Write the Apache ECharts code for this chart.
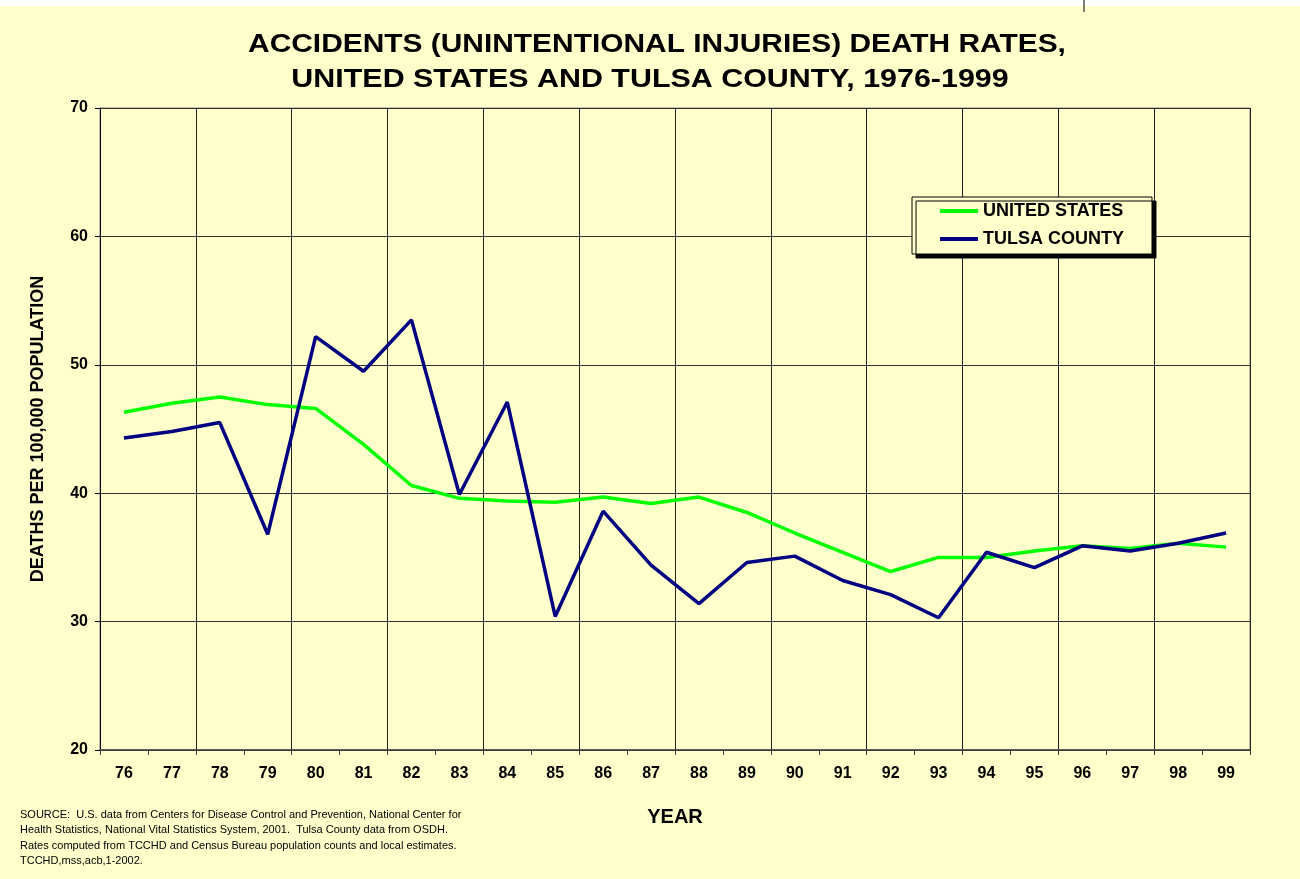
<!DOCTYPE html>
<html>
<head>
<meta charset="utf-8">
<script src="https://cdn.jsdelivr.net/npm/echarts@6/dist/echarts.min.js"></script>
<style>
  html, body { margin: 0; padding: 0; background: #ffffff; }
  #chart { width: 1300px; height: 879px; }
</style>
</head>
<body>
<div id="chart"></div>
<script>
// years on the x axis (19xx)
const years = ["76", "77", "78", "79", "80", "81", "82", "83", "84", "85", "86", "87",
  "88", "89", "90", "91", "92", "93", "94", "95", "96", "97", "98", "99"];
// deaths per 100,000 population
const unitedStates = [46.3, 47.0, 47.5, 46.9, 46.6, 43.8, 40.6, 39.6, 39.4, 39.3, 39.7, 39.2,
  39.7, 38.5, 36.9, 35.4, 33.9, 35.0, 35.0, 35.5, 35.9, 35.7, 36.1, 35.8];
const tulsaCounty = [44.3, 44.8, 45.5, 36.8, 52.2, 49.5, 53.5, 39.9, 47.1, 30.4, 38.6, 34.4,
  31.4, 34.6, 35.1, 33.2, 32.1, 30.3, 35.4, 34.2, 35.9, 35.5, 36.1, 36.9];
const yTicks = { min: 20, max: 70, step: 10 };

const titleLines = [
  "ACCIDENTS (UNINTENTIONAL INJURIES) DEATH RATES,",
  "UNITED STATES AND TULSA COUNTY, 1976-1999"
];
const sourceLines = [
  "SOURCE:  U.S. data from Centers for Disease Control and Prevention, National Center for",
  "Health Statistics, National Vital Statistics System, 2001.  Tulsa County data from OSDH.",
  "Rates computed from TCCHD and Census Bureau population counts and local estimates.",
  "TCCHD,mss,acb,1-2002."
];

const font = "'Liberation Sans', Arial, sans-serif";
const chart = echarts.init(document.getElementById("chart"));

const option = {
  backgroundColor: "#FFFFCC",
  animation: false,
  textStyle: { fontFamily: font },
  legend: {
    orient: "vertical",
    left: 912,
    top: 197,
    padding: [5, 28, 6, 28],
    itemGap: 10,
    itemWidth: 38,
    itemHeight: 4,
    icon: "rect",
    backgroundColor: "#FFFFCC",
    borderColor: "#000",
    borderWidth: 1,
    shadowColor: "#000",
    shadowBlur: 0,
    shadowOffsetX: 4,
    shadowOffsetY: 4,
    textStyle: { fontFamily: font, fontSize: 18, fontWeight: "bold", color: "#000" },
  },
  grid: {
    left: 100,
    right: 50,
    top: 108,
    bottom: 129,
    show: true,
    borderColor: "#808080",
    borderWidth: 1,
  },
  xAxis: {
    type: "category",
    data: years,
    boundaryGap: true,
    name: "YEAR",
    nameLocation: "middle",
    nameGap: 57,
    nameTextStyle: { fontFamily: font, fontSize: 20, fontWeight: "bold", color: "#000" },
    axisLine: { lineStyle: { color: "#404040", width: 1.5 } },
    axisTick: { show: true, interval: 0, length: 5, lineStyle: { color: "#404040" } },
    axisLabel: { interval: 0, margin: 16, fontFamily: font, fontSize: 16, fontWeight: "bold", color: "#000" },
    splitLine: {
      show: true,
      interval: (index) => index % 2 === 0,
      lineStyle: { color: "#222", width: 1 },
    },
  },
  yAxis: {
    type: "value",
    min: yTicks.min,
    max: yTicks.max,
    interval: yTicks.step,
    name: "DEATHS PER 100,000 POPULATION",
    nameLocation: "middle",
    nameGap: 53,
    nameTextStyle: { fontFamily: font, fontSize: 18, fontWeight: "bold", color: "#000" },
    axisLine: { show: true, lineStyle: { color: "#000", width: 1 } },
    axisTick: { show: true, length: 5, lineStyle: { color: "#000" } },
    axisLabel: { margin: 12, fontFamily: font, fontSize: 16, fontWeight: "bold", color: "#000" },
    splitLine: { show: true, lineStyle: { color: "#333", width: 1 } },
  },
  graphic: [
    // white strip and stray mark along the top edge of the scan
    { type: "rect", left: 0, top: 0, shape: { width: 1300, height: 6 }, style: { fill: "#fff" } },
    { type: "line", shape: { x1: 1084, y1: 0, x2: 1084, y2: 12 }, style: { stroke: "#000", lineWidth: 1 } },
    {
      // title, stretched wide like the original
      type: "text",
      x: 657,
      y: 45,
      scaleX: 1.15,
      style: {
        text: titleLines[0],
        fontFamily: font,
        fontSize: 26,
        fontWeight: "bold",
        fill: "#000",
        align: "center",
        verticalAlign: "middle",
      },
    },
    {
      type: "text",
      x: 650,
      y: 80,
      scaleX: 1.17,
      style: {
        text: titleLines[1],
        fontFamily: font,
        fontSize: 26,
        fontWeight: "bold",
        fill: "#000",
        align: "center",
        verticalAlign: "middle",
      },
    },
    {
      type: "text",
      left: 20,
      top: 807,
      style: {
        text: sourceLines.join("\n"),
        fontFamily: font,
        fontSize: 11,
        lineHeight: 15.5,
        fill: "#000",
      },
    },
  ],
  series: [
    {
      name: "UNITED STATES",
      type: "line",
      data: unitedStates,
      symbol: "none",
      itemStyle: { color: "#00FF00" },
      lineStyle: { color: "#00FF00", width: 3.5 },
    },
    {
      name: "TULSA COUNTY",
      type: "line",
      data: tulsaCounty,
      symbol: "none",
      itemStyle: { color: "#000080" },
      lineStyle: { color: "#000080", width: 3.5 },
    },
  ],
};

chart.setOption(option);
</script>
</body>
</html>
